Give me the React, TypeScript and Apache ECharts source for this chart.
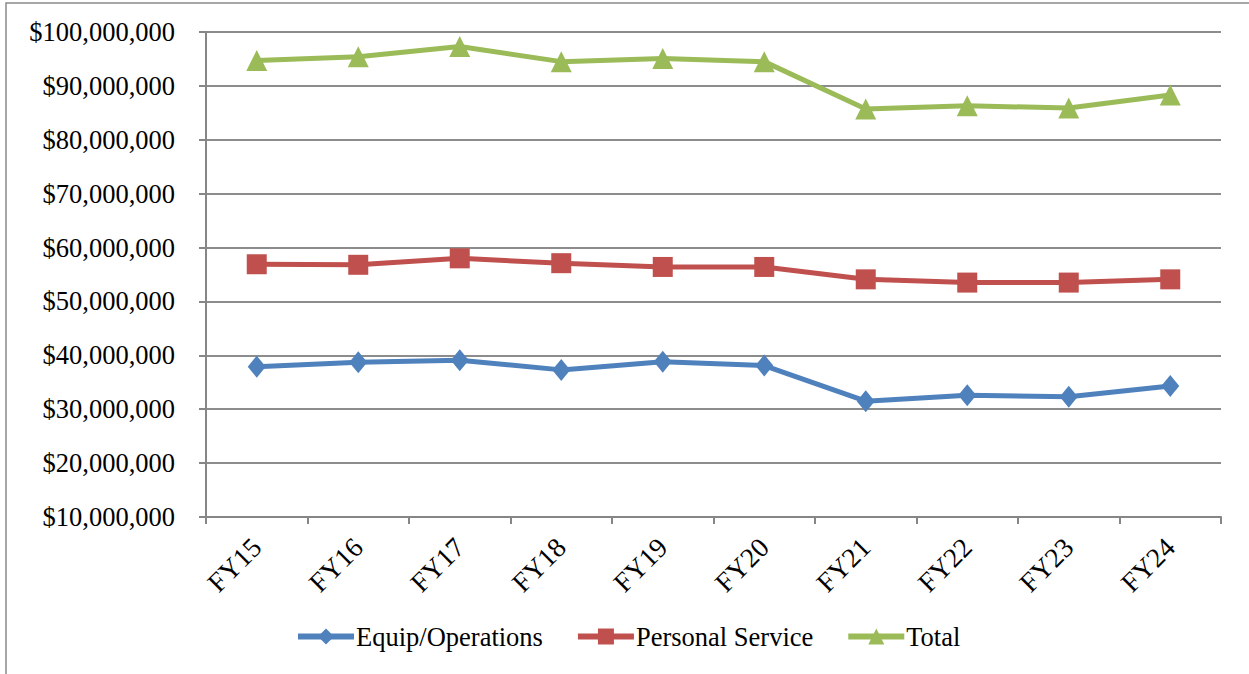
import React, { useEffect, useRef } from "react";
import * as echarts from "echarts";

const categories = ["FY15", "FY16", "FY17", "FY18", "FY19", "FY20", "FY21", "FY22", "FY23", "FY24"];
const equipOperations = [37.9, 38.7, 39.1, 37.3, 38.8, 38.1, 31.5, 32.6, 32.3, 34.3].map((v) => v * 1e6);
const personalService = [56.9, 56.8, 58.0, 57.1, 56.4, 56.4, 54.1, 53.5, 53.5, 54.1].map((v) => v * 1e6);
const total = [94.7, 95.4, 97.3, 94.5, 95.1, 94.5, 85.7, 86.3, 85.9, 88.3].map((v) => v * 1e6);
const seriesNames = ["Equip/Operations", "Personal Service", "Total"];

const FONT = "'Liberation Serif', 'Times New Roman', serif";

function fmt(v: number): string {
  return "$" + Math.round(v).toString().replace(/\B(?=(\d{3})+(?!\d))/g, ",");
}

export default function App() {
  const ref = useRef<HTMLDivElement>(null);
  useEffect(() => {
    if (!ref.current) return;
    const chart = echarts.init(ref.current, null, { renderer: "svg" });
    const lineSeries = (name: string, data: number[], color: string, symbol: string, size: any) => ({
      name,
      type: "line",
      data,
      symbol,
      symbolSize: size,
      showSymbol: true,
      lineStyle: { color, width: 5 },
      itemStyle: { color },
      z: 3,
    });
    chart.setOption({
      animation: false,
      backgroundColor: "#ffffff",
      graphic: [
        {
          type: "rect",
          shape: { x: 6, y: 3, width: 1400, height: 800 },
          style: { fill: "none", stroke: "#8a8a8a", lineWidth: 1.5 },
          silent: true,
        },
      ],
      grid: { left: 206, right: 28, top: 32, bottom: 157, containLabel: false },
      legend: {
        left: 290,
        top: 618,
        itemWidth: 56,
        itemHeight: 20,
        itemGap: 32,
        lineStyle: { width: 6 },
        textStyle: { fontFamily: FONT, fontSize: 26.5, color: "#000", padding: [0, 0, 0, -3] },
        data: seriesNames,
      },
      xAxis: {
        type: "category",
        data: categories,
        boundaryGap: true,
        axisLine: { show: true, lineStyle: { color: "#868686", width: 2 } },
        axisTick: { show: true, length: 7, lineStyle: { color: "#868686", width: 2 } },
        axisLabel: {
          rotate: 45,
          margin: 26,
          fontFamily: FONT,
          fontSize: 27.5,
          color: "#000",
        },
      },
      yAxis: {
        type: "value",
        min: 10000000,
        max: 100000000,
        interval: 10000000,
        axisLine: { show: true, lineStyle: { color: "#868686", width: 2 } },
        axisTick: { show: true, length: 7, lineStyle: { color: "#868686", width: 2 } },
        splitLine: { show: true, lineStyle: { color: "#8c8c8c", width: 2 } },
        axisLabel: {
          margin: 31,
          fontFamily: FONT,
          fontSize: 26.5,
          color: "#000",
          formatter: (v: number) => fmt(v),
        },
      },
      series: [
        lineSeries(seriesNames[0], equipOperations, "#4F81BD", "diamond", [18, 22]),
        lineSeries(seriesNames[1], personalService, "#C0504D", "rect", 20),
        lineSeries(seriesNames[2], total, "#9BBB59", "triangle", 21),
      ],
    });
    return () => chart.dispose();
  }, []);
  return (
    <div
      ref={ref}
      style={{ position: "fixed", left: 0, top: 0, width: 1249, height: 674, background: "#fff" }}
    />
  );
}
